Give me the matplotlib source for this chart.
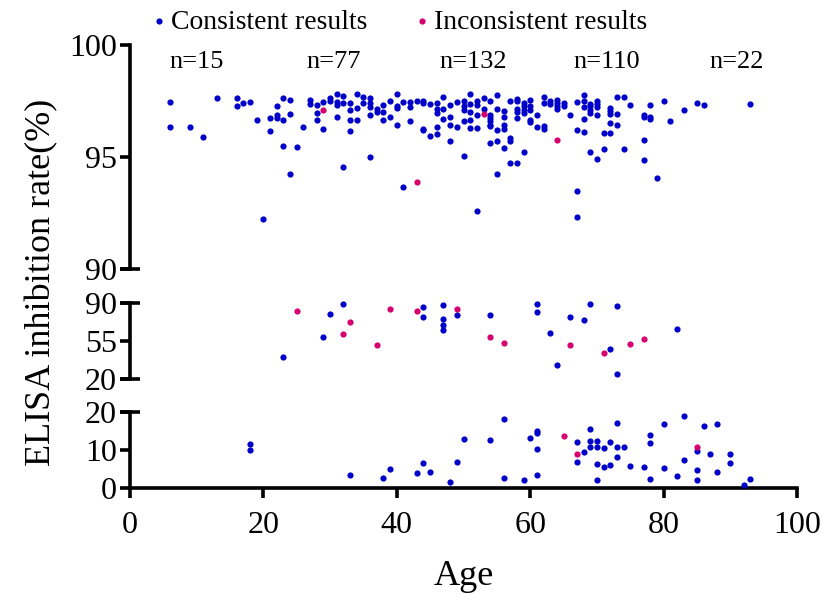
import matplotlib
matplotlib.use("Agg")
import matplotlib.pyplot as plt

plt.rcParams['font.family'] = ['Liberation Serif', 'DejaVu Serif']

blue = '#0000C8'
pink = '#D6006E'

# consistent results (age, ELISA inhibition rate %)
ok_age = [6, 13, 16, 16, 17, 18, 19, 21, 22, 22, 22, 23, 23, 21, 6, 9, 11, 23, 20, 24,
          24, 24, 27, 27, 28, 28, 28, 29, 29, 30, 30, 31, 31, 31, 31, 32, 32, 33, 33, 33,
          33, 34, 34, 34, 35, 35, 36, 36, 36, 36, 37, 37, 38, 38, 38, 39, 39, 40, 40, 40,
          40, 41, 42, 42, 42, 43, 26, 25, 32, 36, 41,
          44, 44, 44, 44, 45, 45, 46, 46, 46, 46, 46, 47, 47, 47, 48, 48, 48, 48, 49, 49,
          50, 50, 50, 50, 50, 51, 51, 51, 51, 51, 52, 52, 52, 52, 52, 53, 53, 54, 54, 54,
          54, 54, 54, 54, 55, 55, 55, 55, 55, 56, 56, 56, 56, 56, 57, 57, 57, 57, 58, 58,
          58, 58, 58, 58, 59, 59, 59, 59, 59, 60, 60, 60, 60, 60, 61, 61, 62, 62, 62, 62,
          63, 63, 64, 64, 64, 64, 65, 65, 66, 67, 67, 67, 67, 68, 68, 68, 68, 68, 69, 69,
          69, 69, 69, 70, 70, 70, 70, 70, 71, 71, 72, 72, 72, 72, 72, 73, 73, 73, 74, 74,
          75, 77, 77, 77, 77, 78, 78, 78, 79, 80, 81, 83, 85, 86, 93,
          32, 30, 29, 23, 44, 44, 47, 47, 47, 47, 49, 54, 61, 61, 63, 64, 66, 68, 69, 72,
          73, 73, 82,
          18, 18, 33, 38, 39, 43, 44, 45, 48, 49, 50, 54, 56, 56, 59, 60, 61, 61, 61, 61,
          67, 67, 68, 69, 69, 69, 70, 70, 70, 70, 71, 71, 72, 72, 73, 73, 73, 74, 75, 77,
          78, 78, 78, 80, 80, 82, 83, 83, 85, 85, 85, 86, 87, 88, 88, 90, 90, 92, 93]
ok_rate = [97.44, 97.63, 97.63, 97.26, 97.41, 97.44, 96.64, 96.74, 97.26, 96.89, 96.74, 96.67, 97.63, 96.15, 96.33, 96.33, 95.88, 95.48, 92.23, 94.24,
           97.56, 96.92, 97.56, 97.37, 97.31, 96.96, 96.64, 97.46, 96.26, 97.63, 97.51, 97.81, 97.44, 97.33, 96.77, 97.72, 97.41, 97.41, 97.10, 96.64,
           96.17, 97.81, 97.19, 96.67, 97.67, 97.41, 97.63, 97.41, 97.23, 96.87, 97.16, 97.01, 97.33, 97.01, 96.67, 97.51, 96.80, 97.81, 97.26, 97.19,
           96.44, 97.44, 97.44, 97.23, 96.59, 97.49, 96.34, 95.45, 94.55, 95.01, 93.65,
           97.49, 97.41, 96.26, 96.19, 97.37, 95.92, 97.41, 97.16, 96.96, 96.34, 96.03, 97.68, 97.16, 96.70, 97.33, 96.79, 96.44, 95.73, 97.46, 96.34,
           97.49, 97.26, 97.11, 96.59, 95.03, 97.81, 97.37, 97.01, 96.67, 96.28, 97.49, 97.33, 96.89, 96.29, 92.57, 97.63, 97.16, 97.49, 96.89, 96.74,
           96.59, 96.44, 96.37, 95.62, 97.75, 97.14, 96.22, 95.73, 94.24, 97.07, 96.77, 96.41, 96.26, 95.40, 97.49, 95.85, 95.70, 94.73, 97.59, 97.49,
           97.14, 97.01, 96.74, 94.73, 97.41, 97.26, 97.11, 96.96, 95.21, 97.56, 97.26, 97.11, 96.67, 96.56, 96.86, 96.33, 97.68, 97.41, 96.37, 96.25,
           97.49, 97.37, 97.56, 97.41, 97.26, 97.16, 97.41, 97.26, 96.86, 97.46, 96.19, 93.47, 92.34, 97.75, 97.51, 97.23, 96.71, 96.12, 97.38, 97.26,
           97.11, 96.96, 95.22, 97.51, 97.38, 97.23, 96.86, 94.91, 96.07, 95.36, 97.19, 97.07, 96.92, 96.53, 96.06, 97.67, 96.92, 96.41, 97.67, 95.36,
           97.33, 96.89, 96.79, 95.74, 94.87, 97.31, 96.77, 96.70, 94.06, 97.49, 96.62, 97.11, 97.40, 97.33, 97.37,
           89.1, 80.3, 58.4, 39.9, 86.8, 77.3, 88.7, 75.4, 69.9, 65.5, 79.1, 79.4, 89.1, 81.9, 62.4, 33.0, 77.6, 74.5, 89.1, 47.3,
           87.5, 24.6, 66.1,
           11.7, 10.0, 3.3, 2.5, 5.0, 3.8, 6.6, 4.1, 1.5, 6.9, 12.8, 12.6, 18.3, 2.5, 2.0, 13.1, 15.0, 14.4, 10.3, 3.3,
           12.0, 6.7, 9.5, 15.7, 12.3, 10.8, 12.3, 10.8, 6.3, 2.1, 10.4, 5.5, 12.2, 6.0, 17.2, 10.7, 8.1, 10.8, 5.8, 5.6,
           14.0, 11.9, 2.2, 17.0, 5.3, 3.0, 18.9, 7.3, 9.7, 4.6, 2.0, 16.4, 9.0, 17.0, 4.1, 9.0, 6.6, 0.8, 2.2]

# inconsistent results
bad_age = [29, 43, 53, 64,
           25, 33, 32, 37, 39, 43, 49, 54, 56, 66, 71, 75, 77,
           65, 67, 85]
bad_rate = [97.11, 93.87, 96.92, 95.74,
            83.1, 72.6, 61.5, 51.0, 85.0, 83.1, 84.4, 59.0, 53.1, 51.3, 43.9, 51.9, 57.1,
            13.6, 8.9, 10.9]

group_x = [10, 30.5, 51.5, 71.5, 91]
group_n = ['n=15', 'n=77', 'n=132', 'n=110', 'n=22']

# y-axis segments: (low, high, ticks)
segments = [(90, 100, [90, 95, 100]), (20, 90, [20, 55, 90]), (0, 20, [0, 10, 20])]

fig = plt.figure(figsize=(8.25, 5.94), dpi=100)
W, H = 825, 594
left, right = 130, 797
boxes = [(45, 269), (303.3, 378.7), (412.3, 487.7)]

axes = []
for (lo, hi, ticks), (top, bot) in zip(segments, boxes):
    ax = fig.add_axes([left / W, 1 - bot / H, (right - left) / W, (bot - top) / H])
    for a, r in [(ok_age, ok_rate), (bad_age, bad_rate)]:
        pts = [(x, y) for x, y in zip(a, r) if lo <= y <= hi]
        ax.scatter([p[0] for p in pts], [p[1] for p in pts], s=20,
                   color=blue if a is ok_age else pink, linewidths=0, clip_on=False, zorder=3)
    ax.set_xlim(0, 100)
    ax.set_ylim(lo, hi)
    ax.set_yticks(ticks)
    for s in ['top', 'right']:
        ax.spines[s].set_visible(False)
    ax.spines['left'].set_linewidth(2.6)
    ax.spines['bottom'].set_linewidth(2.6)
    ax.tick_params(width=2.6, length=7.5, labelsize=23, pad=2)
    axes.append(ax)

ax_top, ax_mid, ax_bot = axes
for ax in (ax_top, ax_mid):
    ax.spines['bottom'].set_visible(False)
    ax.set_xticks([])

ax_bot.set_xticks([0, 20, 40, 60, 80, 100])
ax_bot.tick_params(axis='x', pad=9)

# caps at the axis breaks
cap = 10 / (right - left)
for ax, ends in [(ax_top, [0]), (ax_mid, [0, 1]), (ax_bot, [1])]:
    for e in ends:
        ax.plot([-cap, cap], [e, e], transform=ax.transAxes, color='black',
                lw=2.6, clip_on=False, solid_capstyle='butt')

for x, t in zip(group_x, group_n):
    ax_top.text(x, 99.25, t, ha='center', va='center', fontsize=19)

h1 = ax_top.scatter([], [], s=20, color=blue, linewidths=0)
h2 = ax_top.scatter([], [], s=20, color=pink, linewidths=0)
fig.legend([h1, h2], ['Consistent results', 'Inconsistent results'], ncol=2,
           loc='center left', bbox_to_anchor=(0.164, 0.963), frameon=False, fontsize=20,
           handletextpad=0.0, columnspacing=1.5, handlelength=0.9, borderaxespad=0)

fig.text(0.05, 0.525, 'ELISA inhibition rate(%)', rotation=90, ha='center', va='center', fontsize=26)
fig.text((left + right) / 2 / W, 0.03, 'Age', ha='center', va='center', fontsize=26)

fig.savefig('out.png', dpi=100)
